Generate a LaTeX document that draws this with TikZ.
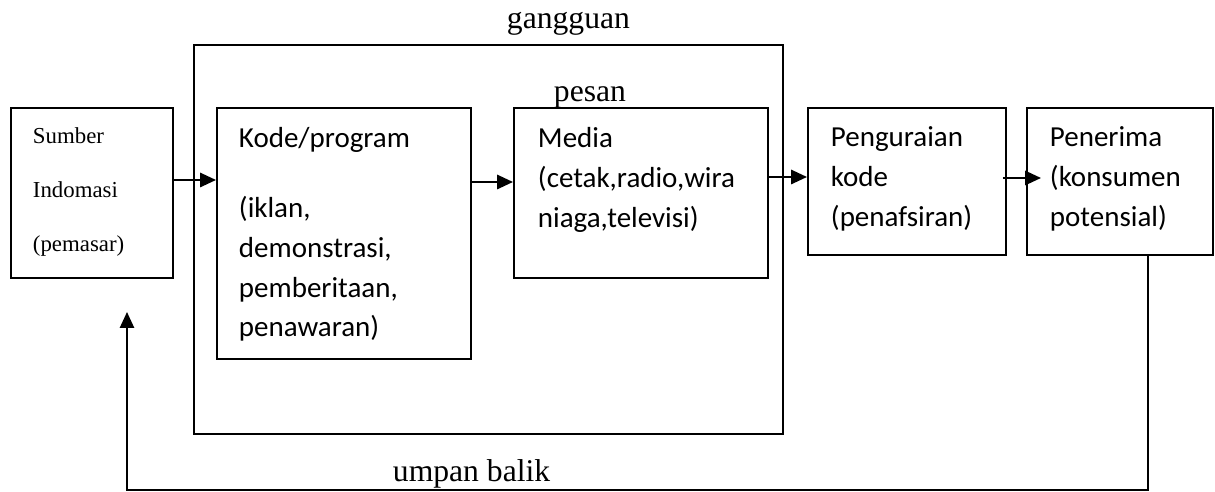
\documentclass[tikz,border=0pt]{standalone}
\usepackage{fontspec}
\setmainfont{Liberation Serif}
\newfontfamily\calibri{Carlito}
\usetikzlibrary{arrows.meta, calc, fit}

\begin{document}
\begin{tikzpicture}[x=0.02cm, y=-0.02cm, line width=1.1pt,
    kotak/.style={draw, inner sep=0pt},
    isi/.style={anchor=base west, inner sep=0pt, align=left, font=\calibri\fontsize{16.5}{23}\selectfont},
    judul/.style={anchor=base west, inner sep=0pt, font=\fontsize{18}{22}\selectfont},
    panah/.style={-{Triangle[length=9pt, width=8pt]}, line width=1.4pt}]
    \useasboundingbox (0,0) rectangle (1215,492);

    \node[kotak, fit={(11,108) (173,278)}] (sumber) {};
    \node[kotak, fit={(194,45) (783,434)}] (gangguan) {};
    \node[kotak, fit={(217,108) (471,359)}] (kode) {};
    \node[kotak, fit={(514,108) (768,278)}] (media) {};
    \node[kotak, fit={(808,108) (1006,255)}] (penguraian) {};
    \node[kotak, fit={(1027,108) (1213,255)}] (penerima) {};

    % teks di dalam kotak (diletakkan pada baris terakhir)
    \node[anchor=base west, inner sep=0pt, align=left, font=\fontsize{13}{31}\selectfont] (sumbertxt) at (32,252) {Sumber\\Indomasi\\(pemasar)};
    \node[isi, font=\calibri\fontsize{16.5}{22.7}\selectfont] (kodetxt) at (238,337) {Kode/program\\[17pt](iklan,\\demonstrasi,\\pemberitaan,\\penawaran)};
    \node[isi] (mediatxt) at (537,228) {Media\\(cetak,radio,wira\\niaga,televisi)};
    \node[isi] (penguraiantxt) at (830,227) {Penguraian\\kode\\(penafsiran)};
    \node[isi] (penerimatxt) at (1049,227) {Penerima\\(konsumen\\potensial)};

    \node[judul] (gangguantxt) at (506,29) {gangguan};
    \node[judul] (pesantxt) at (553,102) {pesan};
    \node[judul] (umpantxt) at (392,482) {umpan balik};

    % alur pesan
    \draw[panah] (sumber.east |- 0,180) -- (kode.west |- 0,180);
    \draw[panah] (kode.east |- 0,182) -- (media.west |- 0,182);
    \draw[panah] (media.east |- 0,177) -- (penguraian.west |- 0,177);
    \draw[panah] ($(penguraian.east |- 0,178)+(-4,0)$) -- ($(penerima.west |- 0,178)+(15,0)$);

    % umpan balik
    \coordinate (umpan) at ($(penerima.south)+(28,0)$);
    \coordinate (balik) at (127,312);
    \draw[panah, line width=1.1pt] (umpan) |- (balik |- 0,490) -- (balik);
\end{tikzpicture}
\end{document}
